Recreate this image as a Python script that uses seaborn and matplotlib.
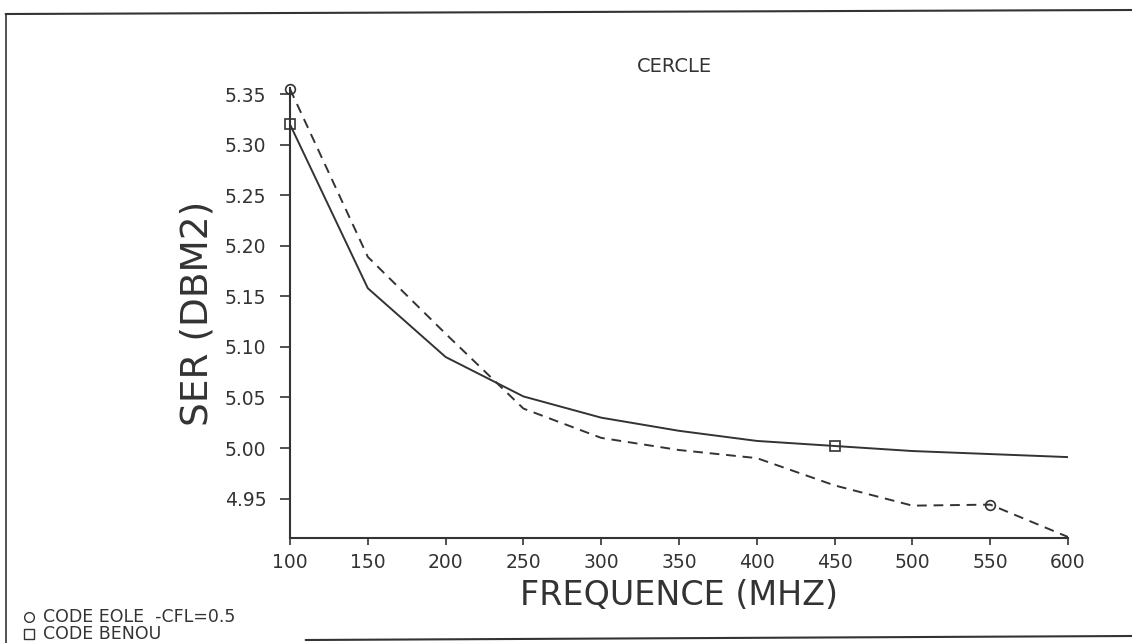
import numpy as np
import pandas as pd
import matplotlib
matplotlib.use('Agg')
import matplotlib.pyplot as plt
from matplotlib.lines import Line2D
import seaborn as sns

# Données
freq = [100, 150, 200, 250, 300, 350, 400, 450, 500, 550, 600]
ser_benou = [5.320, 5.158, 5.090, 5.051, 5.030, 5.017, 5.007, 5.002, 4.997, 4.994, 4.991]
ser_eole = [5.355, 5.189, 5.113, 5.039, 5.010, 4.998, 4.990, 4.963, 4.943, 4.944, 4.912]
x_ticks = [100, 150, 200, 250, 300, 350, 400, 450, 500, 550, 600]
y_ticks = [4.95, 5.00, 5.05, 5.10, 5.15, 5.20, 5.25, 5.30, 5.35]

df = pd.DataFrame({
    'freq': freq * 2,
    'ser': ser_benou + ser_eole,
    'code': ['BENOU'] * len(freq) + ['EOLE'] * len(freq),
})

sns.set_style('ticks')
plt.rcParams['font.family'] = ['DejaVu Sans']
ink = '#333333'

fig = plt.figure(figsize=(11.32, 6.43), dpi=100)
ax = fig.add_axes([0.2562, 0.1633, 0.6873, 0.6998])

sns.lineplot(data=df, x='freq', y='ser', style='code', color=ink,
             dashes={'BENOU': '', 'EOLE': (5, 3.5)}, linewidth=1.4,
             legend=False, ax=ax)

# marqueurs
b_idx = [0, 7]
e_idx = [0, 9]
ax.plot([freq[i] for i in b_idx], [ser_benou[i] for i in b_idx], ls='none',
        marker='s', ms=7, mfc='none', mec=ink, mew=1.2, clip_on=False)
ax.plot([freq[i] for i in e_idx], [ser_eole[i] for i in e_idx], ls='none',
        marker='o', ms=7, mfc='none', mec=ink, mew=1.2, clip_on=False)

ax.set_xlim(100, 600)
ax.set_ylim(4.911, 5.356)
ax.set_xticks(x_ticks)
ax.set_yticks(y_ticks)
ax.set_xticklabels([str(v) for v in x_ticks])
ax.set_yticklabels([f'{v:.2f}' for v in y_ticks])
ax.tick_params(axis='x', length=5, width=1.2, pad=6, labelsize=13.5, colors=ink)
ax.tick_params(axis='y', length=7, width=1.2, pad=10, labelsize=13.5, colors=ink)
sns.despine(ax=ax)
for s in ['left', 'bottom']:
    ax.spines[s].set_linewidth(1.5)
    ax.spines[s].set_color(ink)

ax.set_xlabel('FREQUENCE (MHZ)', fontsize=24, color=ink, labelpad=5)
ax.set_ylabel('SER (DBM2)', fontsize=27, color=ink, labelpad=7)

fig.text(0.596, 0.896, 'CERCLE', ha='center', va='center', fontsize=14, color=ink)

# légende en bas à gauche
fig.add_artist(Line2D([0.026], [1 - 617 / 643], marker='o', ms=7, mfc='none',
                      mec=ink, ls='none', transform=fig.transFigure))
fig.add_artist(Line2D([0.026], [1 - 634 / 643], marker='s', ms=7, mfc='none',
                      mec=ink, ls='none', transform=fig.transFigure))
fig.text(0.038, 1 - 617 / 643, 'CODE EOLE  -CFL=0.5', va='center', fontsize=12.5, color=ink)
fig.text(0.038, 1 - 634 / 643, 'CODE BENOU', va='center', fontsize=12.5, color=ink)

# cadre
fig.add_artist(Line2D([0.005, 1.0], [1 - 14 / 643, 1 - 10 / 643], color=ink, lw=1.5,
                      transform=fig.transFigure))
fig.add_artist(Line2D([0.005, 0.005], [1 - 14 / 643, 0.0], color=ink, lw=1.2,
                      transform=fig.transFigure))
fig.add_artist(Line2D([0.27, 1.0], [1 - 640 / 643, 1 - 636 / 643], color=ink, lw=1.5,
                      transform=fig.transFigure))

fig.savefig('out.png', dpi=100)
